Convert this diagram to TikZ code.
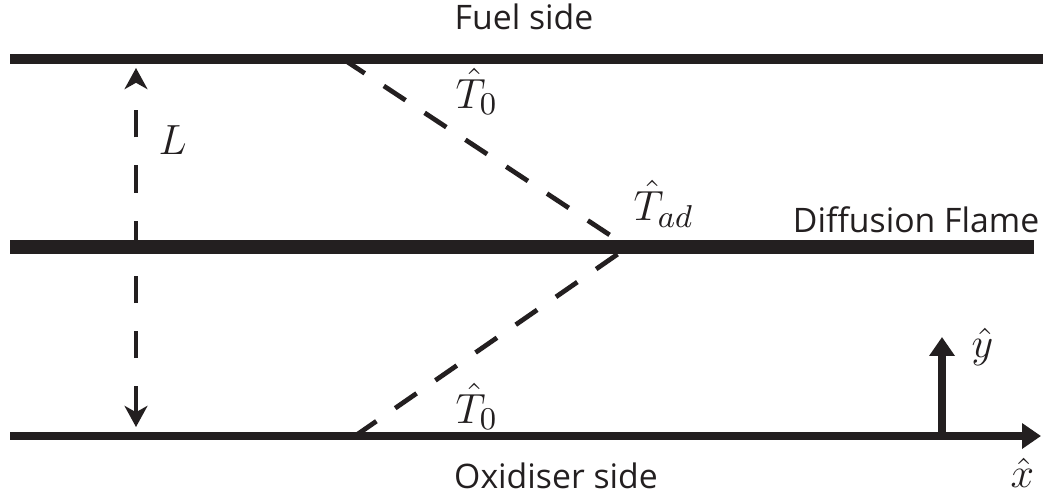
\documentclass[tikz,border=0pt]{standalone}
\usepackage{fontspec}
\setsansfont{Open Sans}
\usetikzlibrary{arrows.meta}
\definecolor{ink}{HTML}{231F20}
\tikzset{
  wall/.style={line width=2.6pt,ink},
  flame/.style={line width=4.2pt,ink},
  profile/.style={line width=1.35pt,ink,dash pattern=on 7.4pt off 6.5pt},
  gapline/.style={line width=1.4pt,ink,dash pattern=on 7.7pt off 8pt,
    {Stealth[length=6pt,width=6.5pt,inset=1.8pt]}-{Stealth[length=6pt,width=6.5pt,inset=1.8pt]}},
  axis/.style={line width=2.3pt,ink,-{Triangle[length=5.4pt,width=7pt]}},
  side/.style={font=\sffamily\fontsize{9.6}{11}\selectfont,text=ink,inner sep=0pt},
  sym/.style={font=\fontsize{12.2}{14}\selectfont,text=ink,inner sep=0pt},
}
\begin{document}
\begin{tikzpicture}[x=0.01cm,y=-0.01cm]
  \useasboundingbox (0,0) rectangle (1043,497);
  % walls and flame sheet
  \coordinate (fuelL) at (10,59);
  \coordinate (fuelR) at (1043,59);
  \coordinate (flameL) at (10,247);
  \coordinate (flameR) at (1034,247);
  \coordinate (oxL) at (10,436);
  \coordinate (oxR) at (1041,436);
  \coordinate (fuelT) at (343,59);
  \coordinate (flameT) at (628,247);
  \coordinate (oxT) at (355,436);
  \coordinate (gapTop) at (136,68);
  \coordinate (gapBot) at (136,427);
  \coordinate (yfoot) at (942,436);
  \coordinate (ytip) at (942,337);

  \draw[wall] (fuelL) -- (fuelR);
  \draw[flame] (flameL) -- (flameR);
  \draw[axis] (oxL) -- (oxR);
  \draw[axis] (yfoot) -- (ytip);

  % temperature profile
  \draw[profile] (fuelT) -- (flameT);
  \draw[profile] (oxT) -- (flameT);

  % channel height
  \draw[gapline] (gapBot) -- (gapTop);

  % labels
  \node[side,anchor=base] (fuel) at (524,29) {Fuel side};
  \node[side,anchor=base] (ox) at (556,488) {Oxidiser side};
  \node[side,anchor=base east] (flame) at (1040,232) {Diffusion Flame};
  \node[sym,anchor=base west] (len) at (158,154) {$L$};
  \node[sym,anchor=base west] (t0top) at (455,108) {$\hat{T}_0$};
  \node[sym,anchor=base west] (t0bot) at (455,423) {$\hat{T}_0$};
  \node[sym,anchor=base west] (tad) at (633,220) {$\hat{T}_{ad}$};
  \node[sym,anchor=base west] (yhat) at (971,357) {$\hat{y}$};
  \node[sym,anchor=base west] (xhat) at (1010,487) {$\hat{x}$};
\end{tikzpicture}
\end{document}
